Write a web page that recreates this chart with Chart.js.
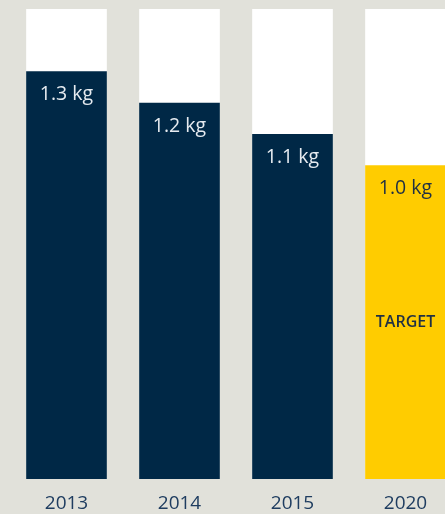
<!DOCTYPE html>
<html>
<head>
<meta charset="utf-8">
<script src="https://cdn.jsdelivr.net/npm/chart.js@4"></script>
<style>
html,body{margin:0;padding:0;background:#e1e1da;overflow:hidden;width:445px;height:514px;}
#wrap{position:absolute;left:0;top:0;width:462px;height:514px;}
</style>
</head>
<body>
<div id="wrap"><canvas id="c" width="462" height="514"></canvas></div>
<script>
const categories = ['2013', '2014', '2015', '2020'];
const values = [1.3, 1.2, 1.1, 1.0];
const valueLabels = ['1.3 kg', '1.2 kg', '1.1 kg', '1.0 kg'];
const backgroundValues = [1.5, 1.5, 1.5, 1.5];
const barColors = ['#002846', '#002846', '#002846', '#ffcc00'];
const labelColors = ['#e6ebf0', '#e6ebf0', '#e6ebf0', '#1f3044'];
const targetIndex = 3;
const targetText = 'TARGET';

const labelPlugin = {
  id: 'labels',
  afterDatasetsDraw(chart) {
    const ctx = chart.ctx;
    const meta = chart.getDatasetMeta(1);
    const x = chart.scales.x, y = chart.scales.y;
    ctx.save();
    ctx.textAlign = 'center';
    ctx.textBaseline = 'middle';
    meta.data.forEach((bar, i) => {
      ctx.fillStyle = labelColors[i];
      ctx.font = '400 19.5px "Open Sans"';
      ctx.fillText(valueLabels[i], bar.x, bar.y + 23);
      ctx.fillStyle = '#1f3d60';
      ctx.font = '400 19px "Open Sans"';
      ctx.fillText(categories[i], x.getPixelForValue(i), y.getPixelForValue(0) + 25);
      if (i === targetIndex) {
        ctx.fillStyle = '#1f3044';
        ctx.font = '600 16px "Open Sans"';
        ctx.fillText(targetText, bar.x, (bar.y + bar.base) / 2);
      }
    });
    ctx.restore();
  }
};

new Chart(document.getElementById('c'), {
  type: 'bar',
  data: {
    labels: categories,
    datasets: [
      { data: backgroundValues, backgroundColor: '#ffffff', order: 2, grouped: false, barThickness: 80 },
      { data: values, backgroundColor: barColors, order: 1, grouped: false, barThickness: 80 }
    ]
  },
  options: {
    responsive: false,
    animation: false,
    layout: { padding: { left: 10, right: 0, top: 9, bottom: 35 } },
    plugins: { legend: { display: false }, tooltip: { enabled: false } },
    scales: {
      x: { display: false },
      y: { display: false, min: 0, max: 1.5 }
    }
  },
  plugins: [labelPlugin]
});
</script>
</body>
</html>
